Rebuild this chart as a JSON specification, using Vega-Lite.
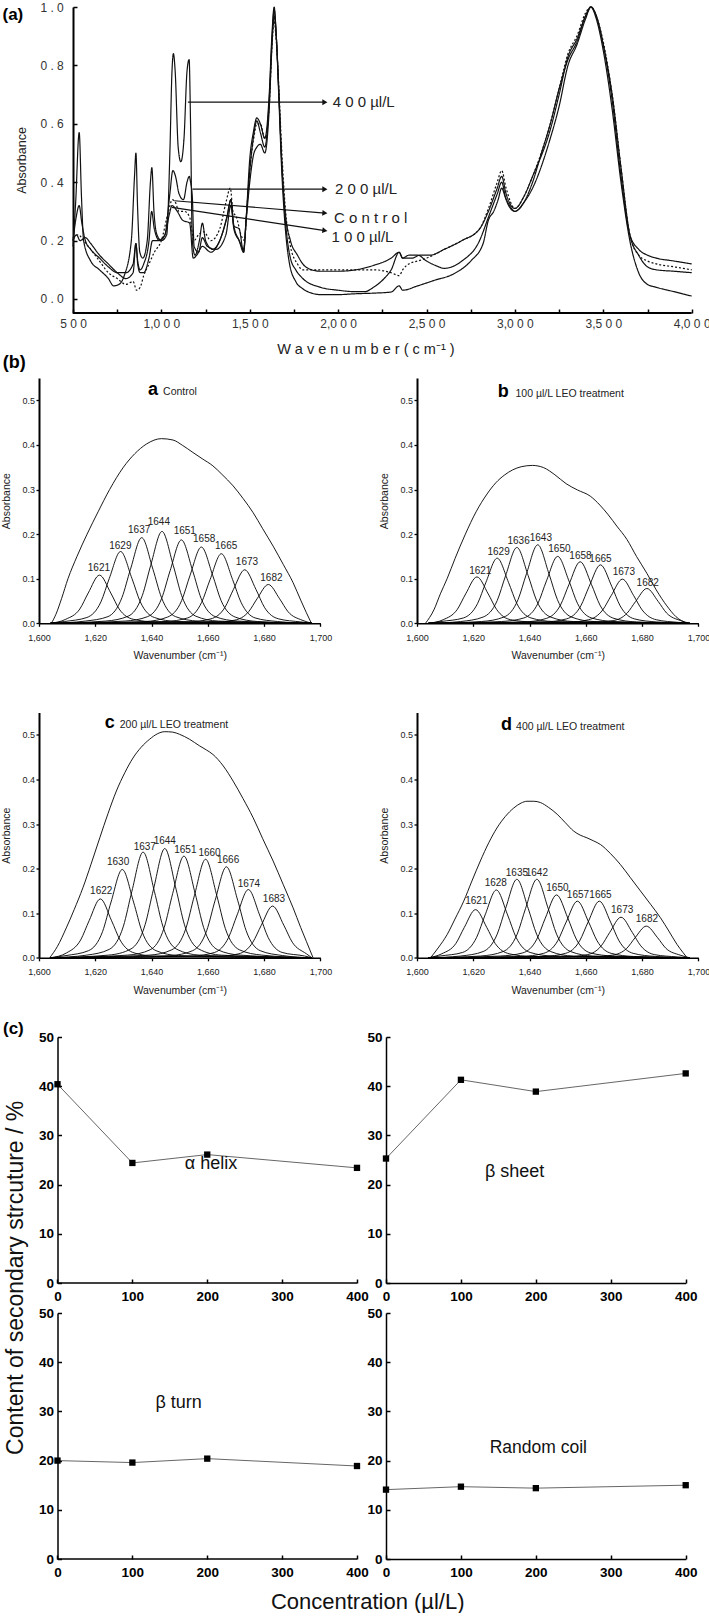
{
"$schema": "https://vega.github.io/schema/vega-lite/v6.json",
"padding": {"left": 1, "top": 1, "right": 0, "bottom": 0},
"config": {
  "view": {"stroke": null},
  "font": "Liberation Sans",
  "axis": {"grid": false, "domainColor": "#000", "tickColor": "#000", "labelColor": "#222", "titleColor": "#222", "titleFontWeight": "normal", "tickWidth": 1.3, "labelOverlap": false, "labelFlush": false, "minExtent": 0},
  "title": {"fontWeight": "normal", "color": "#111"}
},
"datasets": {
  "spec": [
{"s":"S400","x":500,"y":0.18},{"s":"S400","x":515,"y":0.33},{"s":"S400","x":535,"y":0.57},{"s":"S400","x":548,"y":0.35},{"s":"S400","x":560,"y":0.2},{"s":"S400","x":600,"y":0.13},{"s":"S400","x":650,"y":0.1},{"s":"S400","x":700,"y":0.07},{"s":"S400","x":730,"y":0.045},{"s":"S400","x":760,"y":0.05},{"s":"S400","x":790,"y":0.08},{"s":"S400","x":830,"y":0.2},{"s":"S400","x":848,"y":0.42},{"s":"S400","x":856,"y":0.5},{"s":"S400","x":865,"y":0.32},{"s":"S400","x":878,"y":0.16},{"s":"S400","x":895,"y":0.14},{"s":"S400","x":920,"y":0.2},{"s":"S400","x":938,"y":0.4},{"s":"S400","x":946,"y":0.45},{"s":"S400","x":958,"y":0.3},{"s":"S400","x":975,"y":0.22},{"s":"S400","x":1000,"y":0.2},{"s":"S400","x":1030,"y":0.22},{"s":"S400","x":1048,"y":0.5},{"s":"S400","x":1060,"y":0.78},{"s":"S400","x":1068,"y":0.84},{"s":"S400","x":1078,"y":0.78},{"s":"S400","x":1095,"y":0.52},{"s":"S400","x":1110,"y":0.47},{"s":"S400","x":1128,"y":0.55},{"s":"S400","x":1145,"y":0.78},{"s":"S400","x":1157,"y":0.82},{"s":"S400","x":1165,"y":0.6},{"s":"S400","x":1175,"y":0.2},{"s":"S400","x":1190,"y":0.15},{"s":"S400","x":1215,"y":0.2},{"s":"S400","x":1232,"y":0.26},{"s":"S400","x":1250,"y":0.2},{"s":"S400","x":1290,"y":0.17},{"s":"S400","x":1330,"y":0.2},{"s":"S400","x":1370,"y":0.28},{"s":"S400","x":1393,"y":0.34},{"s":"S400","x":1410,"y":0.24},{"s":"S400","x":1440,"y":0.2},{"s":"S400","x":1465,"y":0.17},{"s":"S400","x":1480,"y":0.28},{"s":"S400","x":1500,"y":0.48},{"s":"S400","x":1520,"y":0.57},{"s":"S400","x":1540,"y":0.62},{"s":"S400","x":1560,"y":0.6},{"s":"S400","x":1585,"y":0.55},{"s":"S400","x":1610,"y":0.7},{"s":"S400","x":1625,"y":0.9},{"s":"S400","x":1638,"y":1.0},{"s":"S400","x":1650,"y":0.9},{"s":"S400","x":1665,"y":0.68},{"s":"S400","x":1680,"y":0.45},{"s":"S400","x":1700,"y":0.25},{"s":"S400","x":1725,"y":0.12},{"s":"S400","x":1760,"y":0.06},{"s":"S400","x":1800,"y":0.035},{"s":"S400","x":1850,"y":0.02},{"s":"S400","x":1900,"y":0.015},{"s":"S400","x":2000,"y":0.015},{"s":"S400","x":2100,"y":0.018},{"s":"S400","x":2200,"y":0.02},{"s":"S400","x":2300,"y":0.024},{"s":"S400","x":2345,"y":0.045},{"s":"S400","x":2365,"y":0.03},{"s":"S400","x":2450,"y":0.045},{"s":"S400","x":2550,"y":0.065},{"s":"S400","x":2650,"y":0.085},{"s":"S400","x":2750,"y":0.13},{"s":"S400","x":2820,"y":0.19},{"s":"S400","x":2850,"y":0.27},{"s":"S400","x":2880,"y":0.3},{"s":"S400","x":2905,"y":0.34},{"s":"S400","x":2925,"y":0.38},{"s":"S400","x":2945,"y":0.35},{"s":"S400","x":2970,"y":0.32},{"s":"S400","x":3000,"y":0.3},{"s":"S400","x":3050,"y":0.33},{"s":"S400","x":3100,"y":0.4},{"s":"S400","x":3150,"y":0.5},{"s":"S400","x":3200,"y":0.6},{"s":"S400","x":3250,"y":0.72},{"s":"S400","x":3300,"y":0.82},{"s":"S400","x":3350,"y":0.88},{"s":"S400","x":3400,"y":0.97},{"s":"S400","x":3430,"y":1.0},{"s":"S400","x":3460,"y":0.96},{"s":"S400","x":3500,"y":0.85},{"s":"S400","x":3550,"y":0.65},{"s":"S400","x":3600,"y":0.4},{"s":"S400","x":3650,"y":0.2},{"s":"S400","x":3700,"y":0.09},{"s":"S400","x":3750,"y":0.05},{"s":"S400","x":3800,"y":0.04},{"s":"S400","x":3900,"y":0.025},{"s":"S400","x":4000,"y":0.01},
{"s":"S200","x":500,"y":0.2},{"s":"S200","x":518,"y":0.28},{"s":"S200","x":535,"y":0.32},{"s":"S200","x":550,"y":0.26},{"s":"S200","x":570,"y":0.2},{"s":"S200","x":600,"y":0.17},{"s":"S200","x":650,"y":0.14},{"s":"S200","x":700,"y":0.11},{"s":"S200","x":750,"y":0.09},{"s":"S200","x":800,"y":0.09},{"s":"S200","x":840,"y":0.12},{"s":"S200","x":856,"y":0.19},{"s":"S200","x":866,"y":0.13},{"s":"S200","x":880,"y":0.1},{"s":"S200","x":900,"y":0.12},{"s":"S200","x":930,"y":0.2},{"s":"S200","x":945,"y":0.3},{"s":"S200","x":960,"y":0.24},{"s":"S200","x":990,"y":0.2},{"s":"S200","x":1020,"y":0.22},{"s":"S200","x":1048,"y":0.36},{"s":"S200","x":1065,"y":0.44},{"s":"S200","x":1080,"y":0.42},{"s":"S200","x":1100,"y":0.36},{"s":"S200","x":1125,"y":0.34},{"s":"S200","x":1145,"y":0.4},{"s":"S200","x":1158,"y":0.42},{"s":"S200","x":1165,"y":0.4},{"s":"S200","x":1175,"y":0.35},{"s":"S200","x":1185,"y":0.18},{"s":"S200","x":1210,"y":0.16},{"s":"S200","x":1232,"y":0.21},{"s":"S200","x":1260,"y":0.18},{"s":"S200","x":1310,"y":0.17},{"s":"S200","x":1365,"y":0.22},{"s":"S200","x":1393,"y":0.32},{"s":"S200","x":1410,"y":0.25},{"s":"S200","x":1440,"y":0.24},{"s":"S200","x":1465,"y":0.16},{"s":"S200","x":1480,"y":0.28},{"s":"S200","x":1500,"y":0.44},{"s":"S200","x":1520,"y":0.55},{"s":"S200","x":1540,"y":0.61},{"s":"S200","x":1560,"y":0.57},{"s":"S200","x":1585,"y":0.52},{"s":"S200","x":1610,"y":0.68},{"s":"S200","x":1625,"y":0.88},{"s":"S200","x":1638,"y":0.99},{"s":"S200","x":1650,"y":0.9},{"s":"S200","x":1665,"y":0.7},{"s":"S200","x":1680,"y":0.48},{"s":"S200","x":1700,"y":0.3},{"s":"S200","x":1730,"y":0.2},{"s":"S200","x":1770,"y":0.15},{"s":"S200","x":1800,"y":0.12},{"s":"S200","x":1850,"y":0.1},{"s":"S200","x":1900,"y":0.095},{"s":"S200","x":2000,"y":0.095},{"s":"S200","x":2100,"y":0.1},{"s":"S200","x":2200,"y":0.115},{"s":"S200","x":2300,"y":0.14},{"s":"S200","x":2345,"y":0.16},{"s":"S200","x":2365,"y":0.14},{"s":"S200","x":2420,"y":0.14},{"s":"S200","x":2460,"y":0.15},{"s":"S200","x":2520,"y":0.15},{"s":"S200","x":2600,"y":0.17},{"s":"S200","x":2700,"y":0.2},{"s":"S200","x":2800,"y":0.24},{"s":"S200","x":2850,"y":0.3},{"s":"S200","x":2900,"y":0.38},{"s":"S200","x":2925,"y":0.42},{"s":"S200","x":2950,"y":0.36},{"s":"S200","x":3000,"y":0.31},{"s":"S200","x":3050,"y":0.35},{"s":"S200","x":3100,"y":0.42},{"s":"S200","x":3200,"y":0.58},{"s":"S200","x":3250,"y":0.7},{"s":"S200","x":3300,"y":0.83},{"s":"S200","x":3350,"y":0.89},{"s":"S200","x":3400,"y":0.97},{"s":"S200","x":3430,"y":1.0},{"s":"S200","x":3460,"y":0.97},{"s":"S200","x":3500,"y":0.87},{"s":"S200","x":3550,"y":0.68},{"s":"S200","x":3600,"y":0.42},{"s":"S200","x":3650,"y":0.22},{"s":"S200","x":3700,"y":0.17},{"s":"S200","x":3750,"y":0.15},{"s":"S200","x":3800,"y":0.14},{"s":"S200","x":3900,"y":0.13},{"s":"S200","x":4000,"y":0.12},
{"s":"Ctrl","x":500,"y":0.21},{"s":"Ctrl","x":530,"y":0.22},{"s":"Ctrl","x":560,"y":0.2},{"s":"Ctrl","x":600,"y":0.17},{"s":"Ctrl","x":650,"y":0.13},{"s":"Ctrl","x":700,"y":0.09},{"s":"Ctrl","x":750,"y":0.07},{"s":"Ctrl","x":800,"y":0.05},{"s":"Ctrl","x":840,"y":0.06},{"s":"Ctrl","x":860,"y":0.03},{"s":"Ctrl","x":880,"y":0.04},{"s":"Ctrl","x":900,"y":0.08},{"s":"Ctrl","x":930,"y":0.12},{"s":"Ctrl","x":960,"y":0.16},{"s":"Ctrl","x":1000,"y":0.2},{"s":"Ctrl","x":1040,"y":0.3},{"s":"Ctrl","x":1062,"y":0.34},{"s":"Ctrl","x":1080,"y":0.33},{"s":"Ctrl","x":1100,"y":0.3},{"s":"Ctrl","x":1130,"y":0.3},{"s":"Ctrl","x":1160,"y":0.28},{"s":"Ctrl","x":1185,"y":0.2},{"s":"Ctrl","x":1210,"y":0.22},{"s":"Ctrl","x":1240,"y":0.23},{"s":"Ctrl","x":1280,"y":0.2},{"s":"Ctrl","x":1330,"y":0.24},{"s":"Ctrl","x":1365,"y":0.33},{"s":"Ctrl","x":1390,"y":0.38},{"s":"Ctrl","x":1405,"y":0.3},{"s":"Ctrl","x":1425,"y":0.28},{"s":"Ctrl","x":1450,"y":0.22},{"s":"Ctrl","x":1470,"y":0.2},{"s":"Ctrl","x":1485,"y":0.32},{"s":"Ctrl","x":1505,"y":0.47},{"s":"Ctrl","x":1525,"y":0.56},{"s":"Ctrl","x":1540,"y":0.6},{"s":"Ctrl","x":1560,"y":0.6},{"s":"Ctrl","x":1585,"y":0.55},{"s":"Ctrl","x":1610,"y":0.66},{"s":"Ctrl","x":1625,"y":0.86},{"s":"Ctrl","x":1638,"y":0.95},{"s":"Ctrl","x":1650,"y":0.88},{"s":"Ctrl","x":1665,"y":0.72},{"s":"Ctrl","x":1680,"y":0.52},{"s":"Ctrl","x":1700,"y":0.32},{"s":"Ctrl","x":1730,"y":0.18},{"s":"Ctrl","x":1770,"y":0.12},{"s":"Ctrl","x":1800,"y":0.1},{"s":"Ctrl","x":1850,"y":0.1},{"s":"Ctrl","x":1900,"y":0.1},{"s":"Ctrl","x":2000,"y":0.1},{"s":"Ctrl","x":2100,"y":0.1},{"s":"Ctrl","x":2200,"y":0.1},{"s":"Ctrl","x":2300,"y":0.09},{"s":"Ctrl","x":2345,"y":0.08},{"s":"Ctrl","x":2365,"y":0.1},{"s":"Ctrl","x":2400,"y":0.12},{"s":"Ctrl","x":2450,"y":0.13},{"s":"Ctrl","x":2500,"y":0.14},{"s":"Ctrl","x":2600,"y":0.17},{"s":"Ctrl","x":2700,"y":0.2},{"s":"Ctrl","x":2800,"y":0.24},{"s":"Ctrl","x":2850,"y":0.31},{"s":"Ctrl","x":2900,"y":0.4},{"s":"Ctrl","x":2925,"y":0.44},{"s":"Ctrl","x":2950,"y":0.38},{"s":"Ctrl","x":3000,"y":0.31},{"s":"Ctrl","x":3050,"y":0.35},{"s":"Ctrl","x":3100,"y":0.42},{"s":"Ctrl","x":3200,"y":0.6},{"s":"Ctrl","x":3250,"y":0.72},{"s":"Ctrl","x":3300,"y":0.84},{"s":"Ctrl","x":3350,"y":0.9},{"s":"Ctrl","x":3400,"y":0.98},{"s":"Ctrl","x":3430,"y":1.0},{"s":"Ctrl","x":3460,"y":0.97},{"s":"Ctrl","x":3500,"y":0.88},{"s":"Ctrl","x":3550,"y":0.7},{"s":"Ctrl","x":3600,"y":0.45},{"s":"Ctrl","x":3650,"y":0.22},{"s":"Ctrl","x":3700,"y":0.15},{"s":"Ctrl","x":3750,"y":0.13},{"s":"Ctrl","x":3800,"y":0.12},{"s":"Ctrl","x":3900,"y":0.11},{"s":"Ctrl","x":4000,"y":0.1},
{"s":"S100","x":500,"y":0.2},{"s":"S100","x":520,"y":0.22},{"s":"S100","x":540,"y":0.2},{"s":"S100","x":570,"y":0.21},{"s":"S100","x":600,"y":0.19},{"s":"S100","x":650,"y":0.15},{"s":"S100","x":700,"y":0.12},{"s":"S100","x":750,"y":0.09},{"s":"S100","x":800,"y":0.07},{"s":"S100","x":840,"y":0.09},{"s":"S100","x":856,"y":0.19},{"s":"S100","x":866,"y":0.12},{"s":"S100","x":880,"y":0.09},{"s":"S100","x":900,"y":0.09},{"s":"S100","x":930,"y":0.14},{"s":"S100","x":950,"y":0.2},{"s":"S100","x":980,"y":0.2},{"s":"S100","x":1020,"y":0.22},{"s":"S100","x":1045,"y":0.29},{"s":"S100","x":1060,"y":0.32},{"s":"S100","x":1090,"y":0.3},{"s":"S100","x":1120,"y":0.27},{"s":"S100","x":1160,"y":0.26},{"s":"S100","x":1180,"y":0.14},{"s":"S100","x":1200,"y":0.15},{"s":"S100","x":1232,"y":0.18},{"s":"S100","x":1280,"y":0.16},{"s":"S100","x":1330,"y":0.2},{"s":"S100","x":1375,"y":0.29},{"s":"S100","x":1393,"y":0.34},{"s":"S100","x":1410,"y":0.25},{"s":"S100","x":1440,"y":0.2},{"s":"S100","x":1465,"y":0.16},{"s":"S100","x":1480,"y":0.27},{"s":"S100","x":1500,"y":0.4},{"s":"S100","x":1520,"y":0.49},{"s":"S100","x":1540,"y":0.52},{"s":"S100","x":1560,"y":0.53},{"s":"S100","x":1585,"y":0.5},{"s":"S100","x":1610,"y":0.65},{"s":"S100","x":1625,"y":0.86},{"s":"S100","x":1638,"y":0.97},{"s":"S100","x":1650,"y":0.9},{"s":"S100","x":1665,"y":0.7},{"s":"S100","x":1680,"y":0.48},{"s":"S100","x":1700,"y":0.28},{"s":"S100","x":1730,"y":0.14},{"s":"S100","x":1760,"y":0.1},{"s":"S100","x":1800,"y":0.07},{"s":"S100","x":1900,"y":0.04},{"s":"S100","x":2000,"y":0.03},{"s":"S100","x":2100,"y":0.025},{"s":"S100","x":2150,"y":0.025},{"s":"S100","x":2200,"y":0.04},{"s":"S100","x":2260,"y":0.07},{"s":"S100","x":2300,"y":0.1},{"s":"S100","x":2345,"y":0.16},{"s":"S100","x":2365,"y":0.14},{"s":"S100","x":2400,"y":0.15},{"s":"S100","x":2450,"y":0.15},{"s":"S100","x":2500,"y":0.13},{"s":"S100","x":2550,"y":0.115},{"s":"S100","x":2600,"y":0.105},{"s":"S100","x":2700,"y":0.13},{"s":"S100","x":2800,"y":0.2},{"s":"S100","x":2850,"y":0.28},{"s":"S100","x":2900,"y":0.36},{"s":"S100","x":2925,"y":0.4},{"s":"S100","x":2950,"y":0.34},{"s":"S100","x":3000,"y":0.3},{"s":"S100","x":3050,"y":0.33},{"s":"S100","x":3100,"y":0.38},{"s":"S100","x":3200,"y":0.55},{"s":"S100","x":3250,"y":0.66},{"s":"S100","x":3300,"y":0.8},{"s":"S100","x":3350,"y":0.87},{"s":"S100","x":3400,"y":0.96},{"s":"S100","x":3430,"y":1.0},{"s":"S100","x":3460,"y":0.97},{"s":"S100","x":3500,"y":0.87},{"s":"S100","x":3550,"y":0.7},{"s":"S100","x":3600,"y":0.45},{"s":"S100","x":3650,"y":0.22},{"s":"S100","x":3700,"y":0.15},{"s":"S100","x":3750,"y":0.11},{"s":"S100","x":3800,"y":0.1},{"s":"S100","x":3900,"y":0.095},{"s":"S100","x":4000,"y":0.09}
  ],
  "arrows": [
    {"x":1150,"y":0.674,"x2":1925,"y2":0.674},
    {"x":1176,"y":0.376,"x2":1925,"y2":0.376},
    {"x":1073,"y":0.3365,"x2":1925,"y2":0.2943},
    {"x":1060,"y":0.3136,"x2":1925,"y2":0.2343}
  ],
  "alabels": [
    {"t":"4 0 0 µl/L","x":1969,"y":0.674},
    {"t":"2 0 0 µl/L","x":1982,"y":0.376},
    {"t":"C o n t r o l","x":1977,"y":0.279},
    {"t":"1 0 0 µl/L","x":1962,"y":0.214}
  ],
  "ba": [
{"s":"env","x":1604.4,"y":0},{"s":"env","x":1606,"y":0.02},{"s":"env","x":1608,"y":0.055},{"s":"env","x":1610.3,"y":0.1},{"s":"env","x":1613.5,"y":0.15},{"s":"env","x":1617.1,"y":0.2},{"s":"env","x":1621,"y":0.25},{"s":"env","x":1625.1,"y":0.3},{"s":"env","x":1630,"y":0.35},{"s":"env","x":1634,"y":0.38},{"s":"env","x":1638.2,"y":0.402},{"s":"env","x":1643.5,"y":0.414},{"s":"env","x":1647.6,"y":0.411},{"s":"env","x":1651,"y":0.399},{"s":"env","x":1654.7,"y":0.383},{"s":"env","x":1658,"y":0.369},{"s":"env","x":1661.8,"y":0.353},{"s":"env","x":1665,"y":0.334},{"s":"env","x":1669,"y":0.308},{"s":"env","x":1672.5,"y":0.28},{"s":"env","x":1676.1,"y":0.248},{"s":"env","x":1679.5,"y":0.212},{"s":"env","x":1683.2,"y":0.173},{"s":"env","x":1686.8,"y":0.132},{"s":"env","x":1690.3,"y":0.091},{"s":"env","x":1693,"y":0.052},{"s":"env","x":1695,"y":0.024},{"s":"env","x":1696.8,"y":0},
{"s":"1621","x":1604,"y":0},{"s":"1621","x":1609.5,"y":0.009},{"s":"1621","x":1614.5,"y":0.032},{"s":"1621","x":1617.5,"y":0.068},{"s":"1621","x":1621.5,"y":0.108},{"s":"1621","x":1625.5,"y":0.068},{"s":"1621","x":1628.5,"y":0.032},{"s":"1621","x":1633.5,"y":0.009},{"s":"1621","x":1641.5,"y":0.003},{"s":"1621","x":1697,"y":0},
{"s":"1629","x":1604,"y":0},{"s":"1629","x":1609,"y":0.004},{"s":"1629","x":1617,"y":0.013},{"s":"1629","x":1622,"y":0.048},{"s":"1629","x":1625,"y":0.101},{"s":"1629","x":1629,"y":0.161},{"s":"1629","x":1633,"y":0.101},{"s":"1629","x":1636,"y":0.048},{"s":"1629","x":1641,"y":0.013},{"s":"1629","x":1649,"y":0.004},{"s":"1629","x":1697,"y":0},
{"s":"1637","x":1604,"y":0},{"s":"1637","x":1616.5,"y":0.005},{"s":"1637","x":1624.5,"y":0.015},{"s":"1637","x":1629.5,"y":0.058},{"s":"1637","x":1632.5,"y":0.121},{"s":"1637","x":1636.5,"y":0.192},{"s":"1637","x":1640.5,"y":0.121},{"s":"1637","x":1643.5,"y":0.058},{"s":"1637","x":1648.5,"y":0.015},{"s":"1637","x":1656.5,"y":0.005},{"s":"1637","x":1697,"y":0},
{"s":"1644","x":1604,"y":0},{"s":"1644","x":1623.7,"y":0.005},{"s":"1644","x":1631.7,"y":0.016},{"s":"1644","x":1636.7,"y":0.062},{"s":"1644","x":1639.7,"y":0.13},{"s":"1644","x":1643.7,"y":0.206},{"s":"1644","x":1647.7,"y":0.13},{"s":"1644","x":1650.7,"y":0.062},{"s":"1644","x":1655.7,"y":0.016},{"s":"1644","x":1663.7,"y":0.005},{"s":"1644","x":1697,"y":0},
{"s":"1651","x":1604,"y":0},{"s":"1651","x":1630.6,"y":0.005},{"s":"1651","x":1638.6,"y":0.015},{"s":"1651","x":1643.6,"y":0.056},{"s":"1651","x":1646.6,"y":0.118},{"s":"1651","x":1650.6,"y":0.187},{"s":"1651","x":1654.6,"y":0.118},{"s":"1651","x":1657.6,"y":0.056},{"s":"1651","x":1662.6,"y":0.015},{"s":"1651","x":1670.6,"y":0.005},{"s":"1651","x":1697,"y":0},
{"s":"1658","x":1604,"y":0},{"s":"1658","x":1637.7,"y":0.004},{"s":"1658","x":1645.7,"y":0.014},{"s":"1658","x":1650.7,"y":0.051},{"s":"1658","x":1653.7,"y":0.108},{"s":"1658","x":1657.7,"y":0.171},{"s":"1658","x":1661.7,"y":0.108},{"s":"1658","x":1664.7,"y":0.051},{"s":"1658","x":1669.7,"y":0.014},{"s":"1658","x":1677.7,"y":0.004},{"s":"1658","x":1697,"y":0},
{"s":"1665","x":1604,"y":0},{"s":"1665","x":1644.8,"y":0.004},{"s":"1665","x":1652.8,"y":0.012},{"s":"1665","x":1657.8,"y":0.047},{"s":"1665","x":1660.8,"y":0.098},{"s":"1665","x":1664.8,"y":0.156},{"s":"1665","x":1668.8,"y":0.098},{"s":"1665","x":1671.8,"y":0.047},{"s":"1665","x":1676.8,"y":0.012},{"s":"1665","x":1684.8,"y":0.004},{"s":"1665","x":1697,"y":0},
{"s":"1673","x":1604,"y":0},{"s":"1673","x":1653.1,"y":0.003},{"s":"1673","x":1661.1,"y":0.01},{"s":"1673","x":1666.1,"y":0.036},{"s":"1673","x":1669.1,"y":0.076},{"s":"1673","x":1673.1,"y":0.12},{"s":"1673","x":1677.1,"y":0.076},{"s":"1673","x":1680.1,"y":0.036},{"s":"1673","x":1685.1,"y":0.01},{"s":"1673","x":1693.1,"y":0.003},{"s":"1673","x":1697,"y":0},
{"s":"1682","x":1604,"y":0},{"s":"1682","x":1661.5,"y":0.002},{"s":"1682","x":1669.5,"y":0.007},{"s":"1682","x":1674.5,"y":0.026},{"s":"1682","x":1677.5,"y":0.055},{"s":"1682","x":1681.5,"y":0.087},{"s":"1682","x":1685.5,"y":0.055},{"s":"1682","x":1688.5,"y":0.026},{"s":"1682","x":1693.5,"y":0.007},{"s":"1682","x":1697,"y":0}
  ],
  "bal": [
    {"t":"1621","x":1621.3,"y":0.123},{"t":"1629","x":1628.9,"y":0.174},{"t":"1637","x":1635.6,"y":0.209},{"t":"1644","x":1642.6,"y":0.227},{"t":"1651","x":1651.8,"y":0.206},{"t":"1658","x":1658.7,"y":0.188},{"t":"1665","x":1666.5,"y":0.174},{"t":"1673","x":1673.9,"y":0.137},{"t":"1682","x":1682.6,"y":0.102}
  ],
  "bb": [
{"s":"env","x":1603,"y":0},{"s":"env","x":1606,"y":0.03},{"s":"env","x":1608.3,"y":0.066},{"s":"env","x":1610.7,"y":0.1},{"s":"env","x":1613.5,"y":0.145},{"s":"env","x":1617.2,"y":0.2},{"s":"env","x":1621,"y":0.25},{"s":"env","x":1624.9,"y":0.29},{"s":"env","x":1628,"y":0.315},{"s":"env","x":1631,"y":0.332},{"s":"env","x":1634,"y":0.344},{"s":"env","x":1637,"y":0.351},{"s":"env","x":1641,"y":0.354},{"s":"env","x":1645,"y":0.349},{"s":"env","x":1649,"y":0.333},{"s":"env","x":1653,"y":0.313},{"s":"env","x":1657,"y":0.299},{"s":"env","x":1661.6,"y":0.285},{"s":"env","x":1665,"y":0.265},{"s":"env","x":1668,"y":0.243},{"s":"env","x":1671,"y":0.218},{"s":"env","x":1674.6,"y":0.188},{"s":"env","x":1678,"y":0.15},{"s":"env","x":1681.7,"y":0.112},{"s":"env","x":1685,"y":0.075},{"s":"env","x":1688.8,"y":0.039},{"s":"env","x":1692,"y":0.015},{"s":"env","x":1696,"y":0},
{"s":"1621","x":1604,"y":0},{"s":"1621","x":1609.3,"y":0.008},{"s":"1621","x":1614.3,"y":0.031},{"s":"1621","x":1617.3,"y":0.066},{"s":"1621","x":1621.3,"y":0.104},{"s":"1621","x":1625.3,"y":0.066},{"s":"1621","x":1628.3,"y":0.031},{"s":"1621","x":1633.3,"y":0.008},{"s":"1621","x":1641.3,"y":0.003},{"s":"1621","x":1697,"y":0},
{"s":"1629","x":1604,"y":0},{"s":"1629","x":1608.5,"y":0.004},{"s":"1629","x":1616.5,"y":0.012},{"s":"1629","x":1621.5,"y":0.044},{"s":"1629","x":1624.5,"y":0.092},{"s":"1629","x":1628.5,"y":0.146},{"s":"1629","x":1632.5,"y":0.092},{"s":"1629","x":1635.5,"y":0.044},{"s":"1629","x":1640.5,"y":0.012},{"s":"1629","x":1648.5,"y":0.004},{"s":"1629","x":1697,"y":0},
{"s":"1636","x":1604,"y":0},{"s":"1636","x":1615.5,"y":0.004},{"s":"1636","x":1623.5,"y":0.014},{"s":"1636","x":1628.5,"y":0.051},{"s":"1636","x":1631.5,"y":0.107},{"s":"1636","x":1635.5,"y":0.17},{"s":"1636","x":1639.5,"y":0.107},{"s":"1636","x":1642.5,"y":0.051},{"s":"1636","x":1647.5,"y":0.014},{"s":"1636","x":1655.5,"y":0.004},{"s":"1636","x":1697,"y":0},
{"s":"1643","x":1604,"y":0},{"s":"1643","x":1622.9,"y":0.004},{"s":"1643","x":1630.9,"y":0.014},{"s":"1643","x":1635.9,"y":0.053},{"s":"1643","x":1638.9,"y":0.111},{"s":"1643","x":1642.9,"y":0.176},{"s":"1643","x":1646.9,"y":0.111},{"s":"1643","x":1649.9,"y":0.053},{"s":"1643","x":1654.9,"y":0.014},{"s":"1643","x":1662.9,"y":0.004},{"s":"1643","x":1697,"y":0},
{"s":"1650","x":1604,"y":0},{"s":"1650","x":1630,"y":0.004},{"s":"1650","x":1638,"y":0.012},{"s":"1650","x":1643,"y":0.045},{"s":"1650","x":1646,"y":0.095},{"s":"1650","x":1650,"y":0.15},{"s":"1650","x":1654,"y":0.095},{"s":"1650","x":1657,"y":0.045},{"s":"1650","x":1662,"y":0.012},{"s":"1650","x":1670,"y":0.004},{"s":"1650","x":1697,"y":0},
{"s":"1658","x":1604,"y":0},{"s":"1658","x":1638,"y":0.003},{"s":"1658","x":1646,"y":0.011},{"s":"1658","x":1651,"y":0.041},{"s":"1658","x":1654,"y":0.087},{"s":"1658","x":1658,"y":0.138},{"s":"1658","x":1662,"y":0.087},{"s":"1658","x":1665,"y":0.041},{"s":"1658","x":1670,"y":0.011},{"s":"1658","x":1678,"y":0.003},{"s":"1658","x":1697,"y":0},
{"s":"1665","x":1604,"y":0},{"s":"1665","x":1645.2,"y":0.003},{"s":"1665","x":1653.2,"y":0.01},{"s":"1665","x":1658.2,"y":0.039},{"s":"1665","x":1661.2,"y":0.083},{"s":"1665","x":1665.2,"y":0.131},{"s":"1665","x":1669.2,"y":0.083},{"s":"1665","x":1672.2,"y":0.039},{"s":"1665","x":1677.2,"y":0.01},{"s":"1665","x":1685.2,"y":0.003},{"s":"1665","x":1697,"y":0},
{"s":"1673","x":1604,"y":0},{"s":"1673","x":1653,"y":0.002},{"s":"1673","x":1661,"y":0.008},{"s":"1673","x":1666,"y":0.03},{"s":"1673","x":1669,"y":0.062},{"s":"1673","x":1673,"y":0.099},{"s":"1673","x":1677,"y":0.062},{"s":"1673","x":1680,"y":0.03},{"s":"1673","x":1685,"y":0.008},{"s":"1673","x":1693,"y":0.002},{"s":"1673","x":1697,"y":0},
{"s":"1682","x":1604,"y":0},{"s":"1682","x":1661.7,"y":0.002},{"s":"1682","x":1669.7,"y":0.006},{"s":"1682","x":1674.7,"y":0.023},{"s":"1682","x":1677.7,"y":0.049},{"s":"1682","x":1681.7,"y":0.078},{"s":"1682","x":1685.7,"y":0.049},{"s":"1682","x":1688.7,"y":0.023},{"s":"1682","x":1693.7,"y":0.006},{"s":"1682","x":1697,"y":0}
  ],
  "bbl": [
    {"t":"1621","x":1622.5,"y":0.117},{"t":"1629","x":1629,"y":0.16},{"t":"1636","x":1636.1,"y":0.185},{"t":"1643","x":1644,"y":0.192},{"t":"1650","x":1650.6,"y":0.166},{"t":"1658","x":1658.1,"y":0.15},{"t":"1665","x":1665.2,"y":0.145},{"t":"1673","x":1673.5,"y":0.114},{"t":"1682","x":1682,"y":0.091}
  ],
  "bc": [
{"s":"env","x":1603.8,"y":0},{"s":"env","x":1606.5,"y":0.025},{"s":"env","x":1609.7,"y":0.067},{"s":"env","x":1612.5,"y":0.108},{"s":"env","x":1615.6,"y":0.157},{"s":"env","x":1618.5,"y":0.21},{"s":"env","x":1621.6,"y":0.269},{"s":"env","x":1624.5,"y":0.323},{"s":"env","x":1627.5,"y":0.374},{"s":"env","x":1630.5,"y":0.415},{"s":"env","x":1633.4,"y":0.448},{"s":"env","x":1636.3,"y":0.472},{"s":"env","x":1639.3,"y":0.49},{"s":"env","x":1642,"y":0.502},{"s":"env","x":1644.7,"y":0.507},{"s":"env","x":1647.5,"y":0.506},{"s":"env","x":1650,"y":0.501},{"s":"env","x":1653.5,"y":0.49},{"s":"env","x":1657.1,"y":0.475},{"s":"env","x":1659.5,"y":0.466},{"s":"env","x":1661.8,"y":0.456},{"s":"env","x":1665.5,"y":0.43},{"s":"env","x":1669,"y":0.396},{"s":"env","x":1672.5,"y":0.357},{"s":"env","x":1676.1,"y":0.314},{"s":"env","x":1679.5,"y":0.267},{"s":"env","x":1683.2,"y":0.217},{"s":"env","x":1686.8,"y":0.164},{"s":"env","x":1690.3,"y":0.112},{"s":"env","x":1693,"y":0.068},{"s":"env","x":1695,"y":0.037},{"s":"env","x":1697.4,"y":0},
{"s":"1622","x":1604,"y":0},{"s":"1622","x":1609.8,"y":0.011},{"s":"1622","x":1614.8,"y":0.04},{"s":"1622","x":1617.8,"y":0.083},{"s":"1622","x":1621.8,"y":0.132},{"s":"1622","x":1625.8,"y":0.083},{"s":"1622","x":1628.8,"y":0.04},{"s":"1622","x":1633.8,"y":0.011},{"s":"1622","x":1641.8,"y":0.003},{"s":"1622","x":1697,"y":0},
{"s":"1630","x":1604,"y":0},{"s":"1630","x":1609.6,"y":0.005},{"s":"1630","x":1617.6,"y":0.016},{"s":"1630","x":1622.6,"y":0.059},{"s":"1630","x":1625.6,"y":0.125},{"s":"1630","x":1629.6,"y":0.198},{"s":"1630","x":1633.6,"y":0.125},{"s":"1630","x":1636.6,"y":0.059},{"s":"1630","x":1641.6,"y":0.016},{"s":"1630","x":1649.6,"y":0.005},{"s":"1630","x":1697,"y":0},
{"s":"1637","x":1604,"y":0},{"s":"1637","x":1617,"y":0.006},{"s":"1637","x":1625,"y":0.019},{"s":"1637","x":1630,"y":0.071},{"s":"1637","x":1633,"y":0.149},{"s":"1637","x":1637,"y":0.237},{"s":"1637","x":1641,"y":0.149},{"s":"1637","x":1644,"y":0.071},{"s":"1637","x":1649,"y":0.019},{"s":"1637","x":1657,"y":0.006},{"s":"1637","x":1697,"y":0},
{"s":"1644","x":1604,"y":0},{"s":"1644","x":1624.7,"y":0.006},{"s":"1644","x":1632.7,"y":0.02},{"s":"1644","x":1637.7,"y":0.074},{"s":"1644","x":1640.7,"y":0.154},{"s":"1644","x":1644.7,"y":0.245},{"s":"1644","x":1648.7,"y":0.154},{"s":"1644","x":1651.7,"y":0.074},{"s":"1644","x":1656.7,"y":0.02},{"s":"1644","x":1664.7,"y":0.006},{"s":"1644","x":1697,"y":0},
{"s":"1651","x":1604,"y":0},{"s":"1651","x":1631.5,"y":0.006},{"s":"1651","x":1639.5,"y":0.018},{"s":"1651","x":1644.5,"y":0.068},{"s":"1651","x":1647.5,"y":0.144},{"s":"1651","x":1651.5,"y":0.228},{"s":"1651","x":1655.5,"y":0.144},{"s":"1651","x":1658.5,"y":0.068},{"s":"1651","x":1663.5,"y":0.018},{"s":"1651","x":1671.5,"y":0.006},{"s":"1651","x":1697,"y":0},
{"s":"1660","x":1604,"y":0},{"s":"1660","x":1639.2,"y":0.006},{"s":"1660","x":1647.2,"y":0.018},{"s":"1660","x":1652.2,"y":0.066},{"s":"1660","x":1655.2,"y":0.139},{"s":"1660","x":1659.2,"y":0.221},{"s":"1660","x":1663.2,"y":0.139},{"s":"1660","x":1666.2,"y":0.066},{"s":"1660","x":1671.2,"y":0.018},{"s":"1660","x":1679.2,"y":0.006},{"s":"1660","x":1697,"y":0},
{"s":"1666","x":1604,"y":0},{"s":"1666","x":1646.6,"y":0.005},{"s":"1666","x":1654.6,"y":0.016},{"s":"1666","x":1659.6,"y":0.061},{"s":"1666","x":1662.6,"y":0.129},{"s":"1666","x":1666.6,"y":0.204},{"s":"1666","x":1670.6,"y":0.129},{"s":"1666","x":1673.6,"y":0.061},{"s":"1666","x":1678.6,"y":0.016},{"s":"1666","x":1686.6,"y":0.005},{"s":"1666","x":1697,"y":0},
{"s":"1674","x":1604,"y":0},{"s":"1674","x":1654.4,"y":0.004},{"s":"1674","x":1662.4,"y":0.012},{"s":"1674","x":1667.4,"y":0.046},{"s":"1674","x":1670.4,"y":0.096},{"s":"1674","x":1674.4,"y":0.153},{"s":"1674","x":1678.4,"y":0.096},{"s":"1674","x":1681.4,"y":0.046},{"s":"1674","x":1686.4,"y":0.012},{"s":"1674","x":1694.4,"y":0.004},{"s":"1674","x":1697,"y":0},
{"s":"1683","x":1604,"y":0},{"s":"1683","x":1663,"y":0.003},{"s":"1683","x":1671,"y":0.009},{"s":"1683","x":1676,"y":0.035},{"s":"1683","x":1679,"y":0.073},{"s":"1683","x":1683,"y":0.116},{"s":"1683","x":1687,"y":0.073},{"s":"1683","x":1690,"y":0.035},{"s":"1683","x":1695,"y":0.009},{"s":"1683","x":1697,"y":0}
  ],
  "bcl": [
    {"t":"1622","x":1622.1,"y":0.15},{"t":"1630","x":1628.1,"y":0.215},{"t":"1637","x":1637.6,"y":0.249},{"t":"1644","x":1644.7,"y":0.262},{"t":"1651","x":1652,"y":0.241},{"t":"1660","x":1660.6,"y":0.235},{"t":"1666","x":1667.2,"y":0.219},{"t":"1674","x":1674.6,"y":0.165},{"t":"1683","x":1683.5,"y":0.132}
  ],
  "bd": [
{"s":"env","x":1604.8,"y":0},{"s":"env","x":1607.5,"y":0.022},{"s":"env","x":1610.7,"y":0.052},{"s":"env","x":1613.5,"y":0.087},{"s":"env","x":1616.6,"y":0.127},{"s":"env","x":1619.5,"y":0.172},{"s":"env","x":1622.5,"y":0.217},{"s":"env","x":1625.5,"y":0.258},{"s":"env","x":1628.4,"y":0.291},{"s":"env","x":1631.4,"y":0.317},{"s":"env","x":1634.4,"y":0.336},{"s":"env","x":1637,"y":0.347},{"s":"env","x":1639.1,"y":0.351},{"s":"env","x":1641.5,"y":0.351},{"s":"env","x":1643.9,"y":0.348},{"s":"env","x":1646.8,"y":0.337},{"s":"env","x":1649.8,"y":0.322},{"s":"env","x":1652.7,"y":0.303},{"s":"env","x":1655.7,"y":0.284},{"s":"env","x":1658,"y":0.275},{"s":"env","x":1660.4,"y":0.269},{"s":"env","x":1662.8,"y":0.262},{"s":"env","x":1665.2,"y":0.254},{"s":"env","x":1668.7,"y":0.234},{"s":"env","x":1672.3,"y":0.209},{"s":"env","x":1675.8,"y":0.18},{"s":"env","x":1679.4,"y":0.15},{"s":"env","x":1683,"y":0.12},{"s":"env","x":1686.5,"y":0.09},{"s":"env","x":1689.5,"y":0.06},{"s":"env","x":1692.4,"y":0.03},{"s":"env","x":1694.5,"y":0.012},{"s":"env","x":1696,"y":0},
{"s":"1621","x":1604,"y":0},{"s":"1621","x":1608.8,"y":0.009},{"s":"1621","x":1613.8,"y":0.032},{"s":"1621","x":1616.8,"y":0.068},{"s":"1621","x":1620.8,"y":0.108},{"s":"1621","x":1624.8,"y":0.068},{"s":"1621","x":1627.8,"y":0.032},{"s":"1621","x":1632.8,"y":0.009},{"s":"1621","x":1640.8,"y":0.003},{"s":"1621","x":1697,"y":0},
{"s":"1628","x":1604,"y":0},{"s":"1628","x":1608.2,"y":0.004},{"s":"1628","x":1616.2,"y":0.012},{"s":"1628","x":1621.2,"y":0.046},{"s":"1628","x":1624.2,"y":0.096},{"s":"1628","x":1628.2,"y":0.152},{"s":"1628","x":1632.2,"y":0.096},{"s":"1628","x":1635.2,"y":0.046},{"s":"1628","x":1640.2,"y":0.012},{"s":"1628","x":1648.2,"y":0.004},{"s":"1628","x":1697,"y":0},
{"s":"1635","x":1604,"y":0},{"s":"1635","x":1615.5,"y":0.004},{"s":"1635","x":1623.5,"y":0.014},{"s":"1635","x":1628.5,"y":0.053},{"s":"1635","x":1631.5,"y":0.111},{"s":"1635","x":1635.5,"y":0.176},{"s":"1635","x":1639.5,"y":0.111},{"s":"1635","x":1642.5,"y":0.053},{"s":"1635","x":1647.5,"y":0.014},{"s":"1635","x":1655.5,"y":0.004},{"s":"1635","x":1697,"y":0},
{"s":"1642","x":1604,"y":0},{"s":"1642","x":1622.6,"y":0.004},{"s":"1642","x":1630.6,"y":0.014},{"s":"1642","x":1635.6,"y":0.053},{"s":"1642","x":1638.6,"y":0.111},{"s":"1642","x":1642.6,"y":0.176},{"s":"1642","x":1646.6,"y":0.111},{"s":"1642","x":1649.6,"y":0.053},{"s":"1642","x":1654.6,"y":0.014},{"s":"1642","x":1662.6,"y":0.004},{"s":"1642","x":1697,"y":0},
{"s":"1650","x":1604,"y":0},{"s":"1650","x":1629.6,"y":0.004},{"s":"1650","x":1637.6,"y":0.011},{"s":"1650","x":1642.6,"y":0.042},{"s":"1650","x":1645.6,"y":0.089},{"s":"1650","x":1649.6,"y":0.141},{"s":"1650","x":1653.6,"y":0.089},{"s":"1650","x":1656.6,"y":0.042},{"s":"1650","x":1661.6,"y":0.011},{"s":"1650","x":1669.6,"y":0.004},{"s":"1650","x":1697,"y":0},
{"s":"1657","x":1604,"y":0},{"s":"1657","x":1637,"y":0.003},{"s":"1657","x":1645,"y":0.01},{"s":"1657","x":1650,"y":0.038},{"s":"1657","x":1653,"y":0.08},{"s":"1657","x":1657,"y":0.127},{"s":"1657","x":1661,"y":0.08},{"s":"1657","x":1664,"y":0.038},{"s":"1657","x":1669,"y":0.01},{"s":"1657","x":1677,"y":0.003},{"s":"1657","x":1697,"y":0},
{"s":"1665","x":1604,"y":0},{"s":"1665","x":1644.8,"y":0.003},{"s":"1665","x":1652.8,"y":0.01},{"s":"1665","x":1657.8,"y":0.038},{"s":"1665","x":1660.8,"y":0.08},{"s":"1665","x":1664.8,"y":0.127},{"s":"1665","x":1668.8,"y":0.08},{"s":"1665","x":1671.8,"y":0.038},{"s":"1665","x":1676.8,"y":0.01},{"s":"1665","x":1684.8,"y":0.003},{"s":"1665","x":1697,"y":0},
{"s":"1673","x":1604,"y":0},{"s":"1673","x":1652.5,"y":0.002},{"s":"1673","x":1660.5,"y":0.007},{"s":"1673","x":1665.5,"y":0.027},{"s":"1673","x":1668.5,"y":0.057},{"s":"1673","x":1672.5,"y":0.091},{"s":"1673","x":1676.5,"y":0.057},{"s":"1673","x":1679.5,"y":0.027},{"s":"1673","x":1684.5,"y":0.007},{"s":"1673","x":1692.5,"y":0.002},{"s":"1673","x":1697,"y":0},
{"s":"1682","x":1604,"y":0},{"s":"1682","x":1661.5,"y":0.002},{"s":"1682","x":1669.5,"y":0.006},{"s":"1682","x":1674.5,"y":0.021},{"s":"1682","x":1677.5,"y":0.045},{"s":"1682","x":1681.5,"y":0.071},{"s":"1682","x":1685.5,"y":0.045},{"s":"1682","x":1688.5,"y":0.021},{"s":"1682","x":1693.5,"y":0.006},{"s":"1682","x":1697,"y":0}
  ],
  "bdl": [
    {"t":"1621","x":1621.1,"y":0.127},{"t":"1628","x":1628,"y":0.168},{"t":"1635","x":1635.5,"y":0.191},{"t":"1642","x":1642.6,"y":0.191},{"t":"1650","x":1649.9,"y":0.157},{"t":"1657","x":1657.2,"y":0.141},{"t":"1665","x":1665.2,"y":0.141},{"t":"1673","x":1672.9,"y":0.108},{"t":"1682","x":1681.7,"y":0.086}
  ],
  "alpha": [{"c":0,"v":40.4},{"c":100,"v":24.4},{"c":200,"v":26.1},{"c":400,"v":23.4}],
  "sheet": [{"c":0,"v":25.3},{"c":100,"v":41.3},{"c":200,"v":38.9},{"c":400,"v":42.6}],
  "turn": [{"c":0,"v":20.0},{"c":100,"v":19.6},{"c":200,"v":20.4},{"c":400,"v":18.9}],
  "coil": [{"c":0,"v":14.1},{"c":100,"v":14.7},{"c":200,"v":14.4},{"c":400,"v":15.0}]
},
"spacing": -3,
"vconcat": [
  {
    "width": 652.7, "height": 306,
    "encoding": {
      "x": {"field": "x", "type": "quantitative", "scale": {"domain": [307.7, 4000], "nice": false, "zero": false},
        "axis": {"values": [500,750,1000,1250,1500,1750,2000,2250,2500,2750,3000,3250,3500,3750,4000],
          "labelExpr": "datum.value % 500 == 0 ? replace(join(split(format(datum.value, ','), ''), ' '), ' , ', ',') : ''",
          "domain": false, "tickSize": -4, "tickWidth": 1.5, "labelPadding": 9.6, "labelFontSize": 12, "labelColor": "#333",
          "title": "W a v e n u m b e r  ( c m⁻¹ )", "titleFontSize": 14.5, "titlePadding": 13, "titleColor": "#222"}},
      "y": {"field": "y", "type": "quantitative", "scale": {"domain": [-0.048, 1], "nice": false, "zero": false},
        "axis": {"values": [0, 0.2, 0.4, 0.6, 0.8, 1],
          "labelExpr": "join(split(format(datum.value, '.1f'), ''), ' ')",
          "offset": -34, "tickSize": -4, "tickWidth": 1.5, "labelPadding": 13.7, "labelFontSize": 12, "labelColor": "#333", "domainWidth": 2,
          "title": "Absorbance", "titleFontSize": 12.5, "titlePadding": 11.5}}
    },
    "layer": [
      {"data": {"name": "spec"}, "mark": {"type": "line", "interpolate": "monotone", "strokeWidth": 1.2, "color": "#111"},
        "encoding": {"detail": {"field": "s", "type": "nominal"},
          "strokeDash": {"field": "s", "type": "nominal", "scale": {"domain": ["S400","S200","Ctrl","S100"], "range": [[1,0],[1,0],[2,2],[1,0]]}, "legend": null}}},
      {"data": {"values": [{"x": 500, "x2": 4000, "y": -0.048}]}, "mark": {"type": "rule", "color": "#000", "strokeWidth": 2}, "encoding": {"x2": {"field": "x2"}}},
      {"data": {"name": "arrows"}, "mark": {"type": "rule", "color": "#111", "strokeWidth": 1.2}, "encoding": {"x2": {"field": "x2"}, "y2": {"field": "y2"}}},
      {"data": {"values": [{"x": 1925, "y": 0.674}, {"x": 1925, "y": 0.376}]}, "mark": {"type": "point", "shape": "triangle-right", "filled": true, "size": 35, "color": "#111", "opacity": 1}},
      {"data": {"values": [{"x": 1925, "y": 0.2943}]}, "mark": {"type": "point", "shape": "triangle-right", "filled": true, "size": 35, "color": "#111", "opacity": 1, "angle": 4.7}},
      {"data": {"values": [{"x": 1925, "y": 0.2343}]}, "mark": {"type": "point", "shape": "triangle-right", "filled": true, "size": 35, "color": "#111", "opacity": 1, "angle": 8.6}},
      {"data": {"name": "alabels"}, "mark": {"type": "text", "align": "left", "baseline": "middle", "fontSize": 15, "color": "#222"}, "encoding": {"text": {"field": "t", "type": "nominal"}}},
      {"data": {"values": [{"t": "(a)", "x": 101.2, "y": 0.973}]}, "mark": {"type": "text", "align": "left", "baseline": "middle", "fontSize": 17, "fontWeight": "bold", "color": "#000"}, "encoding": {"text": {"field": "t", "type": "nominal"}}}
    ]
  },
  {
    "spacing": 24,
    "vconcat": [
      {
        "spacing": 50.5,
        "vconcat": [
          {
            "spacing": 47,
            "hconcat": [
              {
                "width": 281.4, "height": 245.3,
                "encoding": {
                  "x": {"field": "x", "type": "quantitative", "scale": {"domain": [1600, 1700], "nice": false, "zero": false},
                    "axis": {"values": [1600,1620,1640,1660,1680,1700], "format": ",.0f", "tickSize": 3, "labelPadding": 7, "labelFontSize": 9, "domainWidth": 1.5, "title": "Wavenumber (cm⁻¹)", "titleFontSize": 10.5, "titlePadding": 8.6}},
                  "y": {"field": "y", "type": "quantitative", "scale": {"domain": [0, 0.55], "nice": false, "zero": false},
                    "axis": {"values": [0,0.1,0.2,0.3,0.4,0.5], "format": ".1f", "tickSize": 3, "labelPadding": 1.5, "labelFontSize": 9, "domainWidth": 2, "title": "Absorbance", "titleFontSize": 10.5, "titlePadding": 10}}
                },
                "layer": [
                  {"data": {"name": "ba"}, "mark": {"type": "line", "interpolate": "monotone", "strokeWidth": 0.9, "color": "#000"}, "encoding": {"detail": {"field": "s", "type": "nominal"}}},
                  {"data": {"name": "bal"}, "mark": {"type": "text", "fontSize": 10, "color": "#222", "baseline": "middle"}, "encoding": {"text": {"field": "t", "type": "nominal"}}},
                  {"data": {"values": [{"t": "a", "x": 1642.3, "y": 0.513}]}, "mark": {"type": "text", "fontSize": 18, "fontWeight": "bold", "align": "right", "baseline": "alphabetic", "color": "#000"}, "encoding": {"text": {"field": "t", "type": "nominal"}}},
                  {"data": {"values": [{"t": "Control", "x": 1644.1, "y": 0.513}]}, "mark": {"type": "text", "fontSize": 10.5, "align": "left", "baseline": "alphabetic", "color": "#222"}, "encoding": {"text": {"field": "t", "type": "nominal"}}},
                  {"data": {"values": [{"t": "(b)", "x": 1587.1, "y": 0.583}]}, "mark": {"type": "text", "fontSize": 18, "fontWeight": "bold", "align": "left", "baseline": "middle", "color": "#000"}, "encoding": {"text": {"field": "t", "type": "nominal"}}}
                ]
              },
              {
                "width": 281.4, "height": 245.3,
                "encoding": {
                  "x": {"field": "x", "type": "quantitative", "scale": {"domain": [1600, 1700], "nice": false, "zero": false},
                    "axis": {"values": [1600,1620,1640,1660,1680,1700], "format": ",.0f", "tickSize": 3, "labelPadding": 7, "labelFontSize": 9, "domainWidth": 1.5, "title": "Wavenumber (cm⁻¹)", "titleFontSize": 10.5, "titlePadding": 8.6}},
                  "y": {"field": "y", "type": "quantitative", "scale": {"domain": [0, 0.55], "nice": false, "zero": false},
                    "axis": {"values": [0,0.1,0.2,0.3,0.4,0.5], "format": ".1f", "tickSize": 3, "labelPadding": 1.5, "labelFontSize": 9, "domainWidth": 2, "title": "Absorbance", "titleFontSize": 10.5, "titlePadding": 10}}
                },
                "layer": [
                  {"data": {"name": "bb"}, "mark": {"type": "line", "interpolate": "monotone", "strokeWidth": 0.9, "color": "#000"}, "encoding": {"detail": {"field": "s", "type": "nominal"}}},
                  {"data": {"name": "bbl"}, "mark": {"type": "text", "fontSize": 10, "color": "#222", "baseline": "middle"}, "encoding": {"text": {"field": "t", "type": "nominal"}}},
                  {"data": {"values": [{"t": "b", "x": 1632.6, "y": 0.508}]}, "mark": {"type": "text", "fontSize": 18, "fontWeight": "bold", "align": "right", "baseline": "alphabetic", "color": "#000"}, "encoding": {"text": {"field": "t", "type": "nominal"}}},
                  {"data": {"values": [{"t": "100 µl/L LEO treatment", "x": 1635, "y": 0.508}]}, "mark": {"type": "text", "fontSize": 10.5, "align": "left", "baseline": "alphabetic", "color": "#222"}, "encoding": {"text": {"field": "t", "type": "nominal"}}}
                ]
              }
            ]
          },
          {
            "spacing": 47,
            "hconcat": [
              {
                "width": 281.4, "height": 245.3,
                "encoding": {
                  "x": {"field": "x", "type": "quantitative", "scale": {"domain": [1600, 1700], "nice": false, "zero": false},
                    "axis": {"values": [1600,1620,1640,1660,1680,1700], "format": ",.0f", "tickSize": 3, "labelPadding": 7, "labelFontSize": 9, "domainWidth": 1.5, "title": "Wavenumber (cm⁻¹)", "titleFontSize": 10.5, "titlePadding": 8.6}},
                  "y": {"field": "y", "type": "quantitative", "scale": {"domain": [0, 0.55], "nice": false, "zero": false},
                    "axis": {"values": [0,0.1,0.2,0.3,0.4,0.5], "format": ".1f", "tickSize": 3, "labelPadding": 1.5, "labelFontSize": 9, "domainWidth": 2, "title": "Absorbance", "titleFontSize": 10.5, "titlePadding": 10}}
                },
                "layer": [
                  {"data": {"name": "bc"}, "mark": {"type": "line", "interpolate": "monotone", "strokeWidth": 0.9, "color": "#000"}, "encoding": {"detail": {"field": "s", "type": "nominal"}}},
                  {"data": {"name": "bcl"}, "mark": {"type": "text", "fontSize": 10, "color": "#222", "baseline": "middle"}, "encoding": {"text": {"field": "t", "type": "nominal"}}},
                  {"data": {"values": [{"t": "c", "x": 1626.9, "y": 0.516}]}, "mark": {"type": "text", "fontSize": 18, "fontWeight": "bold", "align": "right", "baseline": "alphabetic", "color": "#000"}, "encoding": {"text": {"field": "t", "type": "nominal"}}},
                  {"data": {"values": [{"t": "200 µl/L LEO treatment", "x": 1628.7, "y": 0.516}]}, "mark": {"type": "text", "fontSize": 10.5, "align": "left", "baseline": "alphabetic", "color": "#222"}, "encoding": {"text": {"field": "t", "type": "nominal"}}}
                ]
              },
              {
                "width": 281.4, "height": 245.3,
                "encoding": {
                  "x": {"field": "x", "type": "quantitative", "scale": {"domain": [1600, 1700], "nice": false, "zero": false},
                    "axis": {"values": [1600,1620,1640,1660,1680,1700], "format": ",.0f", "tickSize": 3, "labelPadding": 7, "labelFontSize": 9, "domainWidth": 1.5, "title": "Wavenumber (cm⁻¹)", "titleFontSize": 10.5, "titlePadding": 8.6}},
                  "y": {"field": "y", "type": "quantitative", "scale": {"domain": [0, 0.55], "nice": false, "zero": false},
                    "axis": {"values": [0,0.1,0.2,0.3,0.4,0.5], "format": ".1f", "tickSize": 3, "labelPadding": 1.5, "labelFontSize": 9, "domainWidth": 2, "title": "Absorbance", "titleFontSize": 10.5, "titlePadding": 10}}
                },
                "layer": [
                  {"data": {"name": "bd"}, "mark": {"type": "line", "interpolate": "monotone", "strokeWidth": 0.9, "color": "#000"}, "encoding": {"detail": {"field": "s", "type": "nominal"}}},
                  {"data": {"name": "bdl"}, "mark": {"type": "text", "fontSize": 10, "color": "#222", "baseline": "middle"}, "encoding": {"text": {"field": "t", "type": "nominal"}}},
                  {"data": {"values": [{"t": "d", "x": 1633.8, "y": 0.511}]}, "mark": {"type": "text", "fontSize": 18, "fontWeight": "bold", "align": "right", "baseline": "alphabetic", "color": "#000"}, "encoding": {"text": {"field": "t", "type": "nominal"}}},
                  {"data": {"values": [{"t": "400 µl/L LEO treatment", "x": 1635.2, "y": 0.511}]}, "mark": {"type": "text", "fontSize": 10.5, "align": "left", "baseline": "alphabetic", "color": "#222"}, "encoding": {"text": {"field": "t", "type": "nominal"}}}
                ]
              }
            ]
          }
        ]
      },
      {
        "title": {"text": "Content of secondary strcuture / %", "orient": "left", "anchor": "middle", "fontSize": 23, "fontWeight": "normal", "offset": -25.5, "dx": 38.5, "color": "#111"},
        "spacing": 3,
        "vconcat": [
          {
            "spacing": -3,
            "hconcat": [
              {
                "width": 318, "height": 246,
                "encoding": {
                  "x": {"field": "c", "type": "quantitative", "scale": {"domain": [-24.7, 400], "nice": false, "zero": false},
                    "axis": {"values": [0,100,200,300,400], "domain": false, "tickSize": -4, "tickWidth": 1.5, "labelPadding": 10, "labelFontSize": 13.5, "labelFontWeight": "bold", "labelColor": "#000", "title": null}},
                  "y": {"field": "v", "type": "quantitative", "scale": {"domain": [0, 50], "nice": false, "zero": false},
                    "axis": {"values": [0,10,20,30,40,50], "offset": -18.5, "tickSize": -4, "tickWidth": 1.5, "labelPadding": 8, "labelFontSize": 13.5, "labelFontWeight": "bold", "labelColor": "#000", "domainWidth": 1.5, "title": null}}
                },
                "layer": [
                  {"data": {"values": [{"c": 0, "c2": 400, "v": 0}]}, "mark": {"type": "rule", "color": "#000", "strokeWidth": 1.5}, "encoding": {"x2": {"field": "c2"}}},
                  {"data": {"name": "alpha"}, "mark": {"type": "line", "color": "#555", "strokeWidth": 0.9}},
                  {"data": {"name": "alpha"}, "mark": {"type": "point", "shape": "square", "filled": true, "size": 40, "color": "#000", "opacity": 1}},
                  {"data": {"values": [{"t": "α  helix", "c": 170, "v": 24.1}]}, "mark": {"type": "text", "align": "left", "baseline": "middle", "fontSize": 18, "color": "#111"}, "encoding": {"text": {"field": "t", "type": "nominal"}}},
                  {"data": {"values": [{"t": "(c)", "c": -72.8, "v": 51.6}]}, "mark": {"type": "text", "align": "left", "baseline": "middle", "fontSize": 17, "fontWeight": "bold", "color": "#000"}, "encoding": {"text": {"field": "t", "type": "nominal"}}}
                ]
              },
              {
                "width": 299.7, "height": 246,
                "encoding": {
                  "x": {"field": "c", "type": "quantitative", "scale": {"domain": [0, 400], "nice": false, "zero": false},
                    "axis": {"values": [0,100,200,300,400], "domainWidth": 1.5, "tickSize": -4, "tickWidth": 1.5, "labelPadding": 10, "labelFontSize": 13.5, "labelFontWeight": "bold", "labelColor": "#000", "title": null}},
                  "y": {"field": "v", "type": "quantitative", "scale": {"domain": [0, 50], "nice": false, "zero": false},
                    "axis": {"values": [0,10,20,30,40,50], "tickSize": -4, "tickWidth": 1.5, "labelPadding": 8, "labelFontSize": 13.5, "labelFontWeight": "bold", "labelColor": "#000", "domainWidth": 1.5, "title": null}}
                },
                "layer": [
                  {"data": {"name": "sheet"}, "mark": {"type": "line", "color": "#555", "strokeWidth": 0.9}},
                  {"data": {"name": "sheet"}, "mark": {"type": "point", "shape": "square", "filled": true, "size": 40, "color": "#000", "opacity": 1}},
                  {"data": {"values": [{"t": "β  sheet", "c": 132, "v": 22.5}]}, "mark": {"type": "text", "align": "left", "baseline": "middle", "fontSize": 18, "color": "#111"}, "encoding": {"text": {"field": "t", "type": "nominal"}}}
                ]
              }
            ]
          },
          {
            "title": {"text": "Concentration (µl/L)", "orient": "bottom", "anchor": "middle", "fontSize": 22, "fontWeight": "normal", "offset": 13, "color": "#111"},
            "spacing": -3,
            "hconcat": [
              {
                "width": 318, "height": 246,
                "encoding": {
                  "x": {"field": "c", "type": "quantitative", "scale": {"domain": [-24.7, 400], "nice": false, "zero": false},
                    "axis": {"values": [0,100,200,300,400], "domain": false, "tickSize": -4, "tickWidth": 1.5, "labelPadding": 10, "labelFontSize": 13.5, "labelFontWeight": "bold", "labelColor": "#000", "title": null}},
                  "y": {"field": "v", "type": "quantitative", "scale": {"domain": [0, 50], "nice": false, "zero": false},
                    "axis": {"values": [0,10,20,30,40,50], "offset": -18.5, "tickSize": -4, "tickWidth": 1.5, "labelPadding": 8, "labelFontSize": 13.5, "labelFontWeight": "bold", "labelColor": "#000", "domainWidth": 1.5, "title": null}}
                },
                "layer": [
                  {"data": {"values": [{"c": 0, "c2": 400, "v": 0}]}, "mark": {"type": "rule", "color": "#000", "strokeWidth": 1.5}, "encoding": {"x2": {"field": "c2"}}},
                  {"data": {"name": "turn"}, "mark": {"type": "line", "color": "#555", "strokeWidth": 0.9}},
                  {"data": {"name": "turn"}, "mark": {"type": "point", "shape": "square", "filled": true, "size": 40, "color": "#000", "opacity": 1}},
                  {"data": {"values": [{"t": "β  turn", "c": 130.8, "v": 31.8}]}, "mark": {"type": "text", "align": "left", "baseline": "middle", "fontSize": 18, "color": "#111"}, "encoding": {"text": {"field": "t", "type": "nominal"}}}
                ]
              },
              {
                "width": 299.7, "height": 246,
                "encoding": {
                  "x": {"field": "c", "type": "quantitative", "scale": {"domain": [0, 400], "nice": false, "zero": false},
                    "axis": {"values": [0,100,200,300,400], "domainWidth": 1.5, "tickSize": -4, "tickWidth": 1.5, "labelPadding": 10, "labelFontSize": 13.5, "labelFontWeight": "bold", "labelColor": "#000", "title": null}},
                  "y": {"field": "v", "type": "quantitative", "scale": {"domain": [0, 50], "nice": false, "zero": false},
                    "axis": {"values": [0,10,20,30,40,50], "tickSize": -4, "tickWidth": 1.5, "labelPadding": 8, "labelFontSize": 13.5, "labelFontWeight": "bold", "labelColor": "#000", "domainWidth": 1.5, "title": null}}
                },
                "layer": [
                  {"data": {"name": "coil"}, "mark": {"type": "line", "color": "#555", "strokeWidth": 0.9}},
                  {"data": {"name": "coil"}, "mark": {"type": "point", "shape": "square", "filled": true, "size": 40, "color": "#000", "opacity": 1}},
                  {"data": {"values": [{"t": "Random coil", "c": 138.4, "v": 22.5}]}, "mark": {"type": "text", "align": "left", "baseline": "middle", "fontSize": 17.5, "color": "#111"}, "encoding": {"text": {"field": "t", "type": "nominal"}}}
                ]
              }
            ]
          }
        ]
      }
    ]
  }
]
}
